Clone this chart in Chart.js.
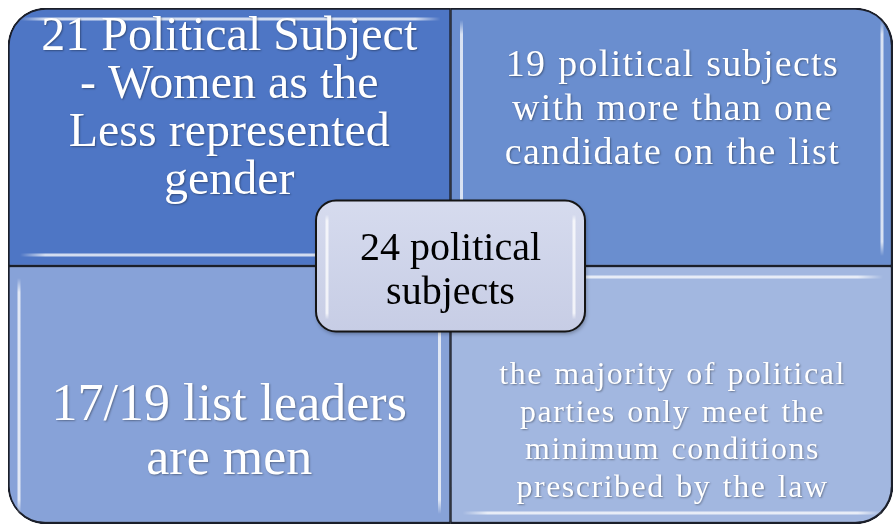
<!DOCTYPE html>
<html>
<head>
<meta charset="utf-8">
<script src="https://cdn.jsdelivr.net/npm/chart.js@4/dist/chart.umd.min.js"></script>
<style>
  html, body { margin: 0; padding: 0; background: #fff; }
  canvas { display: block; }
  #fontprobe { position: absolute; left: -9999px; font-family: 'Liberation Serif'; }
</style>
</head>
<body>
<span id="fontprobe">24 political subjects</span>
<canvas id="matrix" width="894" height="526"></canvas>
<script>
// two columns, two stacked rows of equal size
const columns = ["left", "right"];
const bottomRow = [1, 1];
const topRow = [1, 1];

const topLabels = [
  ["21 Political Subject", "- Women as the", "Less represented", "gender"],
  ["19 political subjects", "with more than one", "candidate on the list"],
];
const bottomLabels = [
  ["17/19 list leaders", "are men"],
  ["the majority of political", "parties only meet the", "minimum conditions", "prescribed by the law"],
];
const centerLabel = ["24 political", "subjects"];

const SERIF = "'Liberation Serif', serif";

// styles per quadrant: [dataset][column]
const fills = [
  ["#87a2d8", "#a2b7e0"],
  ["#4e76c5", "#6a8ecf"],
];
const textStyle = [
  [
    { size: 52, lh: 54, ls: 0, ws: 0, dy: 38 },
    { size: 32, lh: 37.5, ls: 1.5, ws: 2, dy: 37 },
  ],
  [
    { size: 48, lh: 48, ls: 0, ws: 0, dy: -28 },
    { size: 38, lh: 44, ls: 1.3, ws: 1, dy: -27 },
  ],
];
const glowDir = [
  ["v", "h"],
  ["h", "v"],
];

function radiusFor(row) {
  return (ctx) => {
    const r = 38;
    const left = ctx.dataIndex === 0;
    if (row === "bottom") {
      return { topLeft: 0, topRight: 0, bottomLeft: left ? r : 0, bottomRight: left ? 0 : r };
    }
    return { topLeft: left ? r : 0, topRight: left ? 0 : r, bottomLeft: 0, bottomRight: 0 };
  };
}

function bordersFor(row) {
  return (ctx) => {
    const left = ctx.dataIndex === 0;
    return {
      left: left ? 2 : 1.5,
      right: left ? 1.5 : 2.5,
      top: row === "top" ? 2 : 1.5,
      bottom: row === "bottom" ? 2.5 : 1.5,
    };
  };
}

function drawGlow(ctx, x1, y1, x2, y2) {
  const g = ctx.createLinearGradient(x1, y1, x2, y2);
  g.addColorStop(0, "rgba(255,255,255,0)");
  g.addColorStop(0.06, "rgba(255,255,255,0.75)");
  g.addColorStop(0.94, "rgba(255,255,255,0.75)");
  g.addColorStop(1, "rgba(255,255,255,0)");
  ctx.strokeStyle = g;
  ctx.lineWidth = 3;
  ctx.beginPath();
  ctx.moveTo(x1, y1);
  ctx.lineTo(x2, y2);
  ctx.stroke();
}

const matrixDecor = {
  id: "matrixDecor",
  afterDatasetsDraw(chart) {
    const ctx = chart.ctx;
    ctx.save();
    chart.data.datasets.forEach((ds, di) => {
      chart.getDatasetMeta(di).data.forEach((bar, i) => {
        const { x, y, base, width } = bar.getProps(["x", "y", "base", "width"], true);
        const left = x - width / 2;
        const right = x + width / 2;
        const top = Math.min(y, base);
        const bottom = Math.max(y, base);

        // bevel highlights
        if (glowDir[di][i] === "h") {
          drawGlow(ctx, left + 12, top + 11, right - 10, top + 11);
          drawGlow(ctx, left + 12, bottom - 11, right - 10, bottom - 11);
        } else {
          drawGlow(ctx, left + 11, top + 12, left + 11, bottom - 10);
          drawGlow(ctx, right - 11, top + 12, right - 11, bottom - 10);
        }

        // labels
        const st = textStyle[di][i];
        const lines = (di === 0 ? bottomLabels : topLabels)[i];
        ctx.save();
        ctx.font = st.size + "px " + SERIF;
        ctx.letterSpacing = st.ls + "px";
        ctx.wordSpacing = st.ws + "px";
        ctx.fillStyle = "#ffffff";
        ctx.textAlign = "center";
        ctx.textBaseline = "middle";
        ctx.shadowColor = "rgba(0,0,0,0.35)";
        ctx.shadowBlur = 2;
        ctx.shadowOffsetX = 1;
        ctx.shadowOffsetY = 1;
        const cy = (top + bottom) / 2 + st.dy;
        const y0 = cy - ((lines.length - 1) * st.lh) / 2;
        lines.forEach((ln, k) => ctx.fillText(ln, x + st.ls / 2, y0 + k * st.lh));
        ctx.restore();
      });
    });

    // central rounded box
    const xs = chart.scales.x;
    const ys = chart.scales.y;
    const cx = (xs.getPixelForValue(0) + xs.getPixelForValue(1)) / 2;
    const cy = ys.getPixelForValue(1);
    const w = 269, h = 131, r = 20;
    const bx = cx - w / 2, by = cy - h / 2;
    ctx.save();
    ctx.shadowColor = "rgba(0,0,0,0.35)";
    ctx.shadowBlur = 4;
    ctx.shadowOffsetX = 1;
    ctx.shadowOffsetY = 2;
    const g = ctx.createLinearGradient(0, by, 0, by + h);
    g.addColorStop(0, "#d6dbee");
    g.addColorStop(1, "#c7cde5");
    ctx.fillStyle = g;
    ctx.beginPath();
    ctx.roundRect(bx, by, w, h, r);
    ctx.fill();
    ctx.restore();
    ctx.lineWidth = 2;
    ctx.strokeStyle = "#151515";
    ctx.beginPath();
    ctx.roundRect(bx, by, w, h, r);
    ctx.stroke();
    drawGlow(ctx, bx + 11, by + 14, bx + 11, by + h - 12);
    drawGlow(ctx, bx + w - 11, by + 14, bx + w - 11, by + h - 12);

    ctx.font = "40px " + SERIF;
    ctx.fillStyle = "#000000";
    ctx.textAlign = "center";
    ctx.textBaseline = "middle";
    const lh = 44;
    const t0 = cy - ((centerLabel.length - 1) * lh) / 2 + 5;
    centerLabel.forEach((ln, k) => ctx.fillText(ln, cx, t0 + k * lh));
    ctx.restore();
  },
};

function drawMatrix() {
  new Chart(document.getElementById("matrix"), {
    type: "bar",
    data: {
      labels: columns,
      datasets: [
        {
          label: "bottom",
          data: bottomRow,
          backgroundColor: fills[0],
          borderColor: "#1b1f2a",
          borderWidth: bordersFor("bottom"),
          borderSkipped: false,
          borderRadius: radiusFor("bottom"),
        },
        {
          label: "top",
          data: topRow,
          backgroundColor: fills[1],
          borderColor: "#1b1f2a",
          borderWidth: bordersFor("top"),
          borderSkipped: false,
          borderRadius: radiusFor("top"),
        },
      ],
    },
    options: {
      responsive: false,
      animation: false,
      layout: { padding: { left: 8, top: 8, right: 1, bottom: 2 } },
      datasets: { bar: { barPercentage: 1, categoryPercentage: 1 } },
      plugins: { legend: { display: false }, tooltip: { enabled: false } },
      scales: {
        x: { stacked: true, display: false },
        y: { stacked: true, display: false, min: 0, max: 2 },
      },
    },
    plugins: [matrixDecor],
  });
}

document.fonts.load("40px 'Liberation Serif'").then(drawMatrix, drawMatrix);
</script>
</body>
</html>
